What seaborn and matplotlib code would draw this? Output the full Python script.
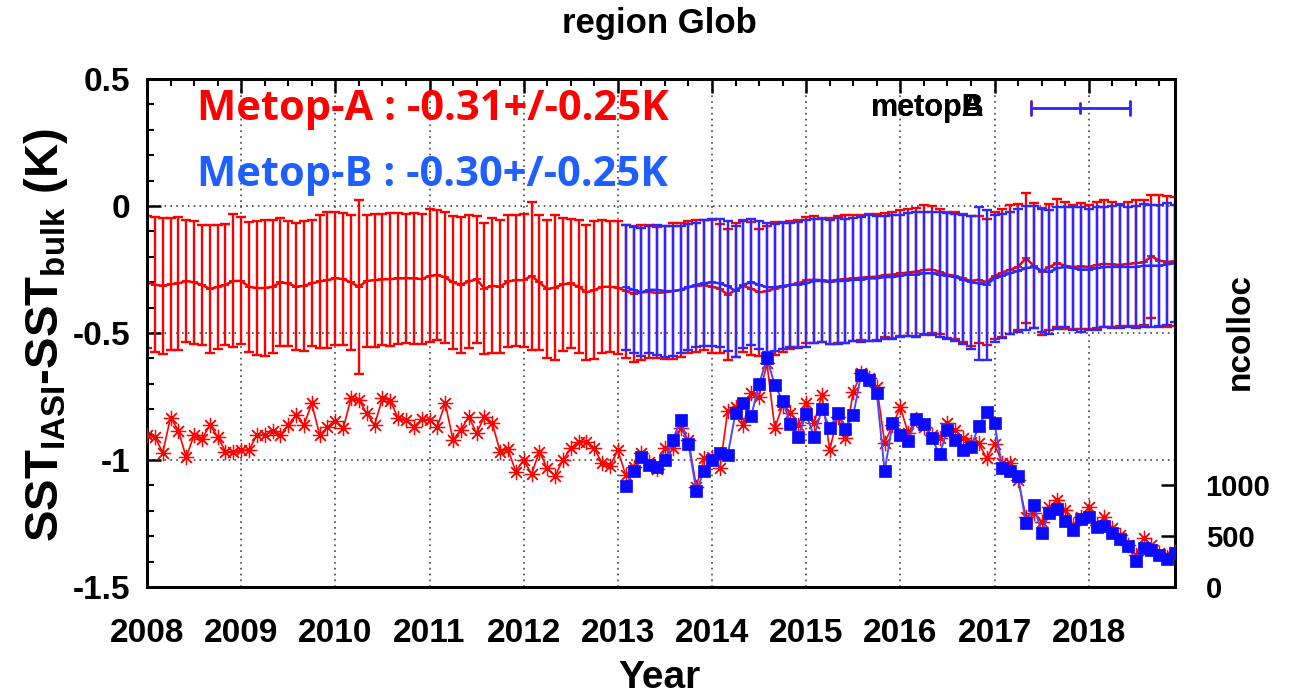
import numpy as np
import pandas as pd
import matplotlib
matplotlib.use("Agg")
import matplotlib.pyplot as plt
import seaborn as sns
from matplotlib.ticker import MultipleLocator, FuncFormatter

# ---------------- data ----------------
months_a = pd.date_range("2008-01-01", periods=132, freq="MS")   # Metop-A months
months_b = pd.date_range("2013-02-01", periods=71, freq="MS")    # Metop-B months

mean_a = [
    -0.301, -0.310, -0.314, -0.308, -0.305, -0.295, -0.301, -0.310, -0.327, -0.318, -0.310, -0.295,
    -0.295, -0.318, -0.323, -0.323, -0.318, -0.301, -0.305, -0.318, -0.314, -0.305, -0.297, -0.292,
    -0.284, -0.288, -0.301, -0.318, -0.295, -0.292, -0.289, -0.288, -0.285, -0.285, -0.285, -0.288,
    -0.275, -0.272, -0.281, -0.301, -0.310, -0.297, -0.289, -0.325, -0.314, -0.318, -0.297, -0.292,
    -0.292, -0.275, -0.301, -0.327, -0.321, -0.308, -0.305, -0.318, -0.340, -0.331, -0.318, -0.318,
    -0.321, -0.335, -0.345, -0.340, -0.338, -0.342, -0.340, -0.335, -0.330, -0.320, -0.315, -0.312,
    -0.318, -0.325, -0.350, -0.330, -0.315, -0.325, -0.340, -0.335, -0.325, -0.318, -0.312, -0.305,
    -0.292, -0.290, -0.292, -0.295, -0.290, -0.288, -0.285, -0.282, -0.280, -0.278, -0.272, -0.270,
    -0.265, -0.262, -0.258, -0.252, -0.250, -0.258, -0.270, -0.275, -0.285, -0.295, -0.290, -0.300,
    -0.275, -0.262, -0.250, -0.240, -0.205, -0.235, -0.258, -0.240, -0.225, -0.235, -0.240, -0.238,
    -0.240, -0.232, -0.228, -0.230, -0.232, -0.228, -0.225, -0.222, -0.198, -0.215, -0.220, -0.218,
]
std_a = [
    0.260, 0.266, 0.268, 0.259, 0.260, 0.240, 0.242, 0.236, 0.253, 0.244, 0.238, 0.262,
    0.250, 0.255, 0.262, 0.268, 0.262, 0.252, 0.246, 0.250, 0.255, 0.248, 0.262, 0.268,
    0.262, 0.260, 0.265, 0.342, 0.260, 0.262, 0.258, 0.262, 0.258, 0.255, 0.258, 0.255,
    0.262, 0.255, 0.258, 0.262, 0.268, 0.262, 0.250, 0.258, 0.265, 0.262, 0.260, 0.258,
    0.262, 0.290, 0.265, 0.270, 0.287, 0.262, 0.255, 0.262, 0.265, 0.270, 0.262, 0.258,
    0.260, 0.262, 0.268, 0.265, 0.262, 0.258, 0.262, 0.268, 0.265, 0.260, 0.258, 0.255,
    0.262, 0.255, 0.258, 0.265, 0.260, 0.262, 0.250, 0.258, 0.262, 0.255, 0.252, 0.250,
    0.248, 0.250, 0.245, 0.248, 0.250, 0.252, 0.248, 0.245, 0.250, 0.248, 0.245, 0.248,
    0.248, 0.250, 0.252, 0.255, 0.250, 0.245, 0.248, 0.250, 0.252, 0.255, 0.250, 0.248,
    0.250, 0.252, 0.255, 0.248, 0.255, 0.245, 0.250, 0.248, 0.252, 0.250, 0.245, 0.248,
    0.245, 0.248, 0.250, 0.245, 0.240, 0.245, 0.248, 0.245, 0.242, 0.260, 0.258, 0.255,
]
mean_b = [
    -0.320, -0.330, -0.340, -0.330, -0.330, -0.335, -0.335, -0.330, -0.320, -0.310, -0.305,
    -0.300, -0.305, -0.315, -0.335, -0.310, -0.300, -0.310, -0.320, -0.320, -0.315, -0.310, -0.310,
    -0.305, -0.295, -0.295, -0.300, -0.295, -0.295, -0.290, -0.290, -0.285, -0.285, -0.280, -0.280,
    -0.275, -0.270, -0.270, -0.265, -0.265, -0.270, -0.275, -0.280, -0.290, -0.300, -0.305, -0.310,
    -0.285, -0.275, -0.265, -0.255, -0.245, -0.240, -0.255, -0.260, -0.245, -0.240, -0.245, -0.250,
    -0.250, -0.245, -0.240, -0.240, -0.240, -0.240, -0.240, -0.235, -0.235, -0.235, -0.230, -0.225,
]
std_b = [
    0.245, 0.248, 0.252, 0.250, 0.255, 0.258, 0.255, 0.250, 0.248, 0.245, 0.248,
    0.250, 0.252, 0.255, 0.258, 0.250, 0.248, 0.252, 0.255, 0.250, 0.248, 0.245, 0.248,
    0.250, 0.245, 0.242, 0.245, 0.248, 0.245, 0.242, 0.245, 0.248, 0.245, 0.242, 0.245,
    0.240, 0.242, 0.245, 0.240, 0.242, 0.245, 0.248, 0.250, 0.255, 0.262, 0.300, 0.295,
    0.250, 0.245, 0.240, 0.242, 0.245, 0.240, 0.242, 0.245, 0.240, 0.238, 0.242, 0.245,
    0.240, 0.242, 0.238, 0.240, 0.242, 0.238, 0.240, 0.242, 0.240, 0.238, 0.240, 0.230,
]
ncolloc_a = [
    1496, 1480, 1322, 1667, 1539, 1276, 1496, 1453, 1595, 1480, 1332, 1332,
    1348, 1348, 1496, 1496, 1535, 1496, 1595, 1693, 1595, 1808, 1496, 1572,
    1637, 1562, 1857, 1841, 1709, 1595, 1857, 1834, 1660, 1644, 1578, 1650,
    1644, 1578, 1808, 1447, 1545, 1677, 1513, 1677, 1611, 1332, 1355, 1135,
    1250, 1112, 1332, 1168, 1093, 1250, 1365, 1430, 1430, 1365, 1217, 1191,
    1345, 1102, 1184, 1316, 1234, 1158, 1365, 1365, 1562, 1447, 988, 1266,
    1283, 1168, 1732, 1775, 1595, 1906, 1873, 2202, 1562, 1791, 1716, 1595,
    1814, 1611, 1890, 1348, 1677, 1463, 1922, 2103, 2054, 1972, 1420, 1590,
    1769, 1513, 1650, 1578, 1496, 1463, 1611, 1545, 1463, 1430, 1414, 1266,
    1408, 1217, 1224, 1053, 692, 725, 643, 791, 856, 758, 610, 692,
    785, 610, 692, 578, 512, 413, 315, 479, 413, 338, 298, 347,
]
ncolloc_b = [
    997, 1145, 1283, 1201, 1178, 1250, 1447, 1644, 1408, 948, 1142,
    1250, 1316, 1299, 1716, 1808, 1683, 1998, 2251, 1988, 1834, 1604, 1480,
    1703, 1480, 1752, 1562, 1709, 1555, 1693, 2087, 2037, 1906, 1142, 1611,
    1496, 1437, 1650, 1601, 1463, 1306, 1545, 1447, 1348, 1381, 1585, 1726,
    1611, 1168, 1142, 1093, 627, 807, 535, 732, 765, 650, 561, 666,
    692, 594, 600, 528, 472, 407, 259, 381, 364, 315, 273, 332,
]
year_ticks = list(range(2008, 2019))
left_ticks = [-1.5, -1.0, -0.5, 0.0, 0.5]
right_ticks = [0, 500, 1000]
text_a = "Metop-A : -0.31+/-0.25K"
text_b = "Metop-B : -0.30+/-0.25K"

# ---------------- style ----------------
sns.set_style("white")
plt.rcParams["font.family"] = ["Liberation Sans", "DejaVu Sans"]
plt.rcParams["font.weight"] = "bold"
plt.rcParams["text.color"] = "black"
plt.rcParams["axes.labelcolor"] = "black"
plt.rcParams["xtick.color"] = "black"
plt.rcParams["ytick.color"] = "black"
plt.rcParams["axes.unicode_minus"] = False
plt.rcParams["mathtext.fontset"] = "custom"
plt.rcParams["mathtext.rm"] = "Liberation Sans:bold"
plt.rcParams["mathtext.bf"] = "Liberation Sans:bold"
plt.rcParams["mathtext.it"] = "Liberation Sans:bold"

RED = "#ff0000"
BLUE_BAR = "#2a2aff"
BLUE_PT = "#0a0aff"
BLUE_TXT = "#1f5fff"

def dec_year(idx):
    return idx.year + (idx.month - 1) / 12.0

df_a = pd.DataFrame({"t": dec_year(months_a), "mean": mean_a, "std": std_a, "n": ncolloc_a})
df_b = pd.DataFrame({"t": dec_year(months_b), "mean": mean_b, "std": std_b, "n": ncolloc_b})

W, H = 1304, 698
fig = plt.figure(figsize=(W / 100, H / 100), dpi=100)
L, R, T, B = 147, 1175, 79, 587
ax = fig.add_axes([L / W, 1 - B / H, (R - L) / W, (B - T) / H])
ax2 = ax.twinx()

# error bars
ax.errorbar(df_a["t"], df_a["mean"], yerr=df_a["std"], fmt="none", ecolor=RED,
            elinewidth=1.7, capsize=3.8, capthick=1.7, zorder=3)
sns.lineplot(data=df_a, x="t", y="mean", ax=ax, color=RED, lw=1.8, zorder=4,
             marker="+", markersize=6, markeredgecolor=RED, markeredgewidth=1.3)
ax.errorbar(df_b["t"], df_b["mean"], yerr=df_b["std"], fmt="none", ecolor=BLUE_BAR,
            elinewidth=1.7, capsize=3.8, capthick=1.7, zorder=5)
sns.lineplot(data=df_b, x="t", y="mean", ax=ax, color=BLUE_BAR, lw=1.8, zorder=6,
             marker="+", markersize=6, markeredgecolor=BLUE_BAR, markeredgewidth=1.3)

# ncolloc
sns.lineplot(data=df_a, x="t", y="n", ax=ax2, color=RED, lw=1.2, zorder=3,
             marker=(8, 2, 0), markersize=11, markeredgecolor=RED, markeredgewidth=0.9)
sns.lineplot(data=df_b, x="t", y="n", ax=ax2, color="#4848ff", lw=1.4, zorder=4,
             marker="s", markersize=8.5, markerfacecolor=BLUE_PT, markeredgecolor=BLUE_PT,
             markeredgewidth=0.5)

# axes setup
ax.set_xlim(2008, df_a["t"].iloc[-1])
ax.set_ylim(-1.5, 0.5)
ax2.set_ylim(0, 5000)
ax.set_xlabel("")
ax.set_ylabel("")
ax2.set_xlabel("")
ax2.set_ylabel("")

ax.set_xticks(year_ticks)
ax.xaxis.set_minor_locator(MultipleLocator(0.25))
ax.set_yticks(left_ticks)
ax.yaxis.set_minor_locator(MultipleLocator(0.1))
ax.yaxis.set_major_formatter(FuncFormatter(lambda v, p: "%g" % v))
ax2.set_yticks(right_ticks)
ax2.yaxis.set_minor_locator(matplotlib.ticker.NullLocator())

ax.tick_params(which="major", direction="in", length=10, width=1.8, top=True, right=False,
               labelsize=24, pad=12, colors="black")
ax.tick_params(which="minor", direction="in", length=5, width=1.5, top=True, right=False)
ax.tick_params(axis="x", which="major", pad=22)
ax2.tick_params(axis="y", which="major", direction="in", length=10, width=1.8,
                labelsize=21, pad=22, colors="black")
for lab in ax.get_xticklabels():
    lab.set_fontsize(24)
    lab.set_fontweight("bold")
for lab in ax.get_yticklabels() + ax2.get_yticklabels():
    lab.set_fontweight("bold")

for a in (ax, ax2):
    for s in a.spines.values():
        s.set_linewidth(2.0)
        s.set_color("black")

ax.grid(True, which="major", linestyle=(0, (1, 2.5)), color="#444444", lw=1.2)
ax.set_axisbelow(True)

# texts
fig.text(0.506, 1 - 24 / H, "region Glob", ha="center", va="center", fontsize=25,
         fontweight="bold")
fig.text(0.506, 1 - 678 / H, "Year", ha="center", va="center", fontsize=28,
         fontweight="bold")
fig.text(46 / W, 1 - 335 / H, r"SST$_{\mathbf{IASI}}$-SST$_{\mathbf{bulk}}$ (K)",
         rotation=90, ha="center", va="center", fontsize=34, fontweight="bold")
fig.text(1240 / W, 1 - 332 / H, "ncolloc", rotation=90, ha="center", va="center",
         fontsize=24, fontweight="bold")

ax.text(0.0486, 0.939, text_a, transform=ax.transAxes, ha="left", va="center",
        fontsize=30, fontweight="bold", family=["Open Sans", "DejaVu Sans"], color=RED)
ax.text(0.0486, 0.811, text_b, transform=ax.transAxes, ha="left", va="center",
        fontsize=30, fontweight="bold", family=["Open Sans", "DejaVu Sans"], color=BLUE_TXT)

# key (gnuplot drew both entries at the same spot)
ky = 0.943
ax.text(0.815, ky, "metopA", transform=ax.transAxes, ha="right", va="center",
        fontsize=22, fontweight="bold", color="black")
ax.text(0.815, ky, "metopB", transform=ax.transAxes, ha="right", va="center",
        fontsize=22, fontweight="bold", color="black")
x0, x1, xm = 0.860, 0.956, 0.908
dy = 0.014
for col in (RED, BLUE_BAR):
    ax.plot([x0, x1], [ky, ky], transform=ax.transAxes, color=col, lw=1.8, zorder=7)
    for xx in (x0, x1):
        ax.plot([xx, xx], [ky - dy, ky + dy], transform=ax.transAxes, color=col, lw=1.8, zorder=7)
    ax.plot([xm, xm], [ky - dy * 0.7, ky + dy * 0.7], transform=ax.transAxes, color=col,
            lw=1.8, zorder=7)

fig.savefig("out.png", dpi=100, facecolor="white")
